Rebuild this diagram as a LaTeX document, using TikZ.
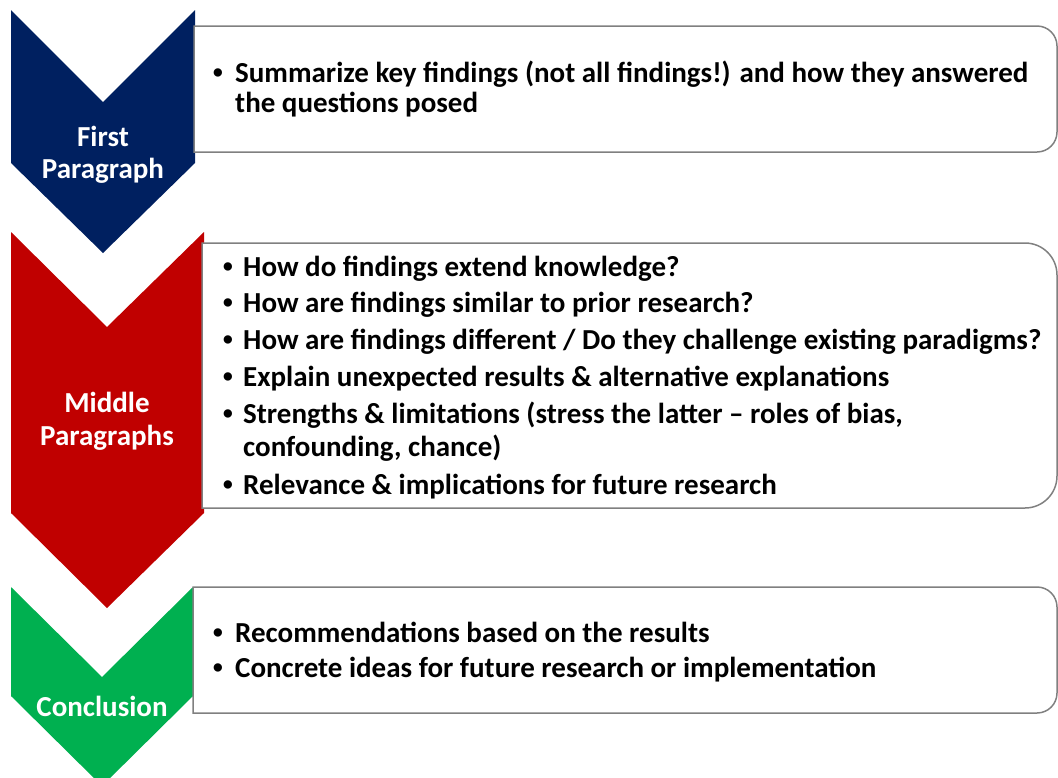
\documentclass[tikz,border=0pt]{standalone}
\usepackage{fontspec}
\setmainfont{Carlito}
\newfontfamily\bulletfont{Liberation Sans}
\definecolor{navy}{HTML}{002060}
\definecolor{darkred}{HTML}{C00000}
\definecolor{okgreen}{HTML}{00B050}
\definecolor{edgegray}{HTML}{808080}
\begin{document}
\begin{tikzpicture}[x=1pt,y=-1pt,
  panel/.style={draw=edgegray,line width=1.5pt,fill=white},
  label/.style={text=white,font=\fontsize{29}{31}\selectfont\bfseries,inner sep=0pt,anchor=base},
  item/.style={font=\fontsize{29}{31}\selectfont\bfseries,inner sep=0pt,anchor=base west},
  dot/.style={font=\bulletfont\fontsize{29}{31}\selectfont\bfseries,inner sep=0pt,anchor=base}]
\useasboundingbox (0,0) rectangle (1058,777);
\clip (0,0) rectangle (1058,777);
% chevrons
\fill[navy] (11,10) -- (103,102) -- (195,10) -- (195,163) -- (103,253) -- (11,163) -- cycle;
\fill[darkred] (11,232) -- (107,327) -- (204,232) -- (204,513) -- (107,608) -- (11,513) -- cycle;
\fill[okgreen] (11,587) -- (102,677) -- (193,587) -- (193,696) -- (102,786) -- (11,696) -- cycle;
% panels
\draw[panel] (194,26) -- (1037,26) arc[start angle=90,end angle=0,radius=20pt] -- (1057,132) arc[start angle=0,end angle=-90,radius=20pt] -- (194,152) -- cycle;
\draw[panel] (202,243) -- (1025,243) arc[start angle=90,end angle=0,radius=32pt] -- (1057,476) arc[start angle=0,end angle=-90,radius=32pt] -- (202,508) -- cycle;
\draw[panel] (193,587) -- (1037,587) arc[start angle=90,end angle=0,radius=20pt] -- (1057,693) arc[start angle=0,end angle=-90,radius=20pt] -- (193,713) -- cycle;
% chevron labels
\node[label] (l1a) at (103,146.5) {First};
\node[label] (l1b) at (103,178) {Paragraph};
\node[label] (l2a) at (107,412.5) {Middle};
\node[label] (l2b) at (107,445) {Paragraphs};
\node[label] (l3) at (102,716.5) {Conclusion};
% panel 1
\node[dot] (b1) at (218,82) {•};
\node[item] (t1a) at (235,82) {Summarize key findings (not all findings!) and how they answered};
\node[item] (t1b) at (235,112) {the questions posed};
% panel 2
\node[dot] (b2a) at (228,276) {•};
\node[item] (t2a) at (243,276) {How do findings extend knowledge?};
\node[dot] (b2b) at (228,312.7) {•};
\node[item] (t2b) at (243,312.7) {How are findings similar to prior research?};
\node[dot] (b2c) at (228,349) {•};
\node[item] (t2c) at (243,349) {How are findings different / Do they challenge existing paradigms?};
\node[dot] (b2d) at (228,386.7) {•};
\node[item] (t2d) at (243,386.7) {Explain unexpected results \& alternative explanations};
\node[dot] (b2e) at (228,423) {•};
\node[item] (t2e) at (243,423) {Strengths \& limitations (stress the latter – roles of bias,};
\node[item] (t2f) at (243,456.7) {confounding, chance)};
\node[dot] (b2g) at (228,494) {•};
\node[item] (t2g) at (243,494) {Relevance \& implications for future research};
% panel 3
\node[dot] (b3a) at (218,642) {•};
\node[item] (t3a) at (235,642) {Recommendations based on the results};
\node[dot] (b3b) at (218,677) {•};
\node[item] (t3b) at (235,677) {Concrete ideas for future research or implementation};
\end{tikzpicture}
\end{document}
